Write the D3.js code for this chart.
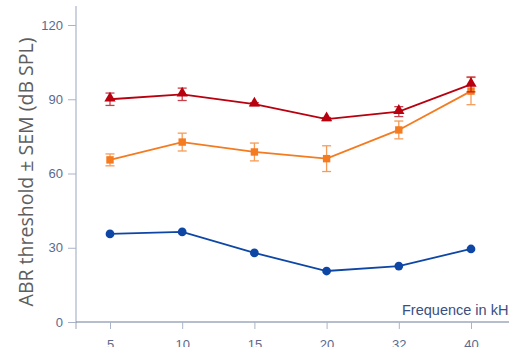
<!DOCTYPE html>
<html>
<head>
<meta charset="utf-8">
<script src="https://cdn.jsdelivr.net/npm/d3@7"></script>
<style>
  body { margin: 0; background: #fff; }
  svg { display: block; }
  .tick text { font-family: "Liberation Sans", Arial, sans-serif; font-size: 13px; fill: #5b6a8c; }
</style>
</head>
<body>
<div id="chart"></div>
<script>
// frequencies (categorical) and thresholds
var freqs = ["5", "10", "15", "20", "32", "40"];
var redMean = [90, 92, 88, 82, 85, 96];
var redSem = [2.5, 2.5, 0.6, 0.6, 2, 3];
var orangeMean = [65.5, 72.7, 68.7, 66, 77.6, 93.3];
var orangeSem = [2.4, 3.6, 3.6, 5.2, 3.6, 5.5];
var blueMean = [35.6, 36.4, 27.9, 20.6, 22.6, 29.5];
var yTicks = [0, 30, 60, 90, 120];

var W = 509, H = 347;
var axisColor = "#a9b4c8";

var svg = d3.select("#chart").append("svg")
  .attr("width", W)
  .attr("height", H);

var x = d3.scalePoint()
  .domain(freqs)
  .range([110, 471]);
var y = d3.scaleLinear()
  .domain([0, 120])
  .range([322, 25]);

// axes lines
svg.append("line")
  .attr("x1", 76).attr("x2", 76)
  .attr("y1", 6).attr("y2", 329)
  .attr("stroke", axisColor).attr("stroke-width", 1.2);
svg.append("line")
  .attr("x1", 76).attr("x2", W)
  .attr("y1", 322).attr("y2", 322)
  .attr("stroke", "#6f7f9c").attr("stroke-width", 1.2);

var yAxis = svg.append("g")
  .attr("transform", "translate(76,0)")
  .call(d3.axisLeft(y).tickValues(yTicks).tickSize(8).tickPadding(5));
yAxis.select(".domain").remove();
yAxis.selectAll(".tick line").attr("stroke", axisColor);

var xAxis = svg.append("g")
  .attr("transform", "translate(0,322)")
  .call(d3.axisBottom(x).tickSize(7).tickPadding(11));
xAxis.select(".domain").remove();
xAxis.selectAll(".tick line").attr("stroke", axisColor);

// axis titles
svg.append("text")
  .attr("transform", "translate(33,172) rotate(-90)")
  .attr("text-anchor", "middle")
  .style("font-family", "'Open Sans', sans-serif")
  .style("font-size", "19.5px")
  .style("fill", "#5e5e5e")
  .text("ABR threshold \u00b1 SEM (dB SPL)");

svg.append("text")
  .attr("x", 402).attr("y", 315)
  .style("font-family", "'Liberation Sans', Arial, sans-serif")
  .style("font-size", "14.5px")
  .style("fill", "#3a5080")
  .text("Frequence in kHz");

var line = d3.line()
  .x(function(d, i) { return x(freqs[i]); })
  .y(function(d) { return y(d); });

function drawSeries(mean, sem, color, shape) {
  var g = svg.append("g");
  g.append("path")
    .datum(mean)
    .attr("fill", "none")
    .attr("stroke", color)
    .attr("stroke-width", 1.8)
    .attr("d", line);

  if (sem) {
    var eb = g.selectAll(".eb")
      .data(mean)
      .enter().append("g")
      .attr("stroke", color)
      .attr("stroke-width", 1.3)
      .attr("opacity", 0.75);
    eb.append("line")
      .attr("x1", function(d, i) { return x(freqs[i]); })
      .attr("x2", function(d, i) { return x(freqs[i]); })
      .attr("y1", function(d, i) { return y(d + sem[i]); })
      .attr("y2", function(d, i) { return y(d - sem[i]); });
    [1, -1].forEach(function(s) {
      eb.append("line")
        .attr("x1", function(d, i) { return x(freqs[i]) - 4.5; })
        .attr("x2", function(d, i) { return x(freqs[i]) + 4.5; })
        .attr("y1", function(d, i) { return y(d + s * sem[i]); })
        .attr("y2", function(d, i) { return y(d + s * sem[i]); });
    });
  }

  var sym = d3.symbol().type(shape).size(shape === d3.symbolCircle ? 60 : 55);
  g.selectAll(".pt")
    .data(mean)
    .enter().append("path")
    .attr("transform", function(d, i) {
      var dy = shape === d3.symbolTriangle ? -1 : 0;
      return "translate(" + x(freqs[i]) + "," + (y(d) + dy) + ")";
    })
    .attr("fill", color)
    .attr("d", sym);
}

drawSeries(blueMean, null, "#0e46a6", d3.symbolCircle);
drawSeries(orangeMean, orangeSem, "#f47b20", d3.symbolSquare);
drawSeries(redMean, redSem, "#b8000f", d3.symbolTriangle);
</script>
</body>
</html>
